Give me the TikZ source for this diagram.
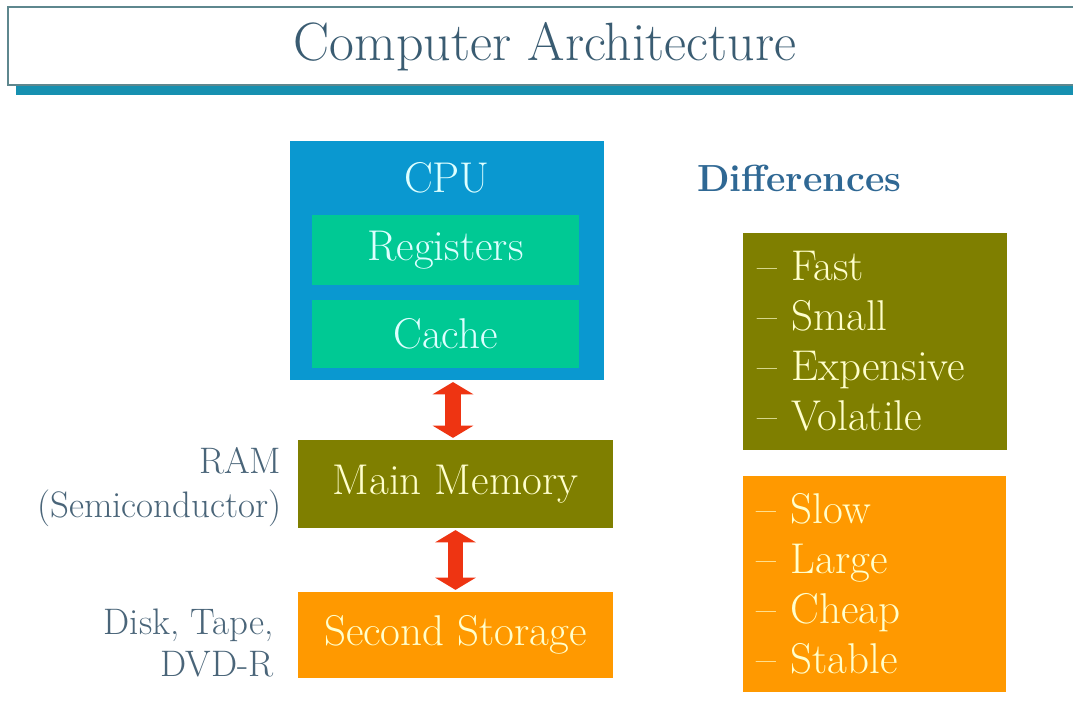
\documentclass[tikz,border=0pt]{standalone}
\usepackage{fontspec}
\usetikzlibrary{arrows.meta,positioning}

\definecolor{cpublue}{HTML}{0A98D0}
\definecolor{regreen}{HTML}{00C994}
\definecolor{memolive}{HTML}{7F7F00}
\definecolor{storeorange}{HTML}{FF9900}
\definecolor{linkred}{HTML}{EE3412}
\definecolor{titlegray}{HTML}{3A5C72}
\definecolor{framegray}{HTML}{5E878E}
\definecolor{barteal}{HTML}{1690B0}
\definecolor{labelgray}{HTML}{4A6579}
\definecolor{diffblue}{HTML}{2F6894}
\definecolor{paleyellow}{HTML}{FFFFCC}
\definecolor{palecyan}{HTML}{DDFFFF}

\begin{document}
\begin{tikzpicture}[x=0.02cm,y=-0.02cm,
                    unit box/.style={rectangle,inner sep=0pt,font=\fontsize{24.5}{28}\selectfont},
                    list box/.style={rectangle,inner xsep=0.28cm,inner ysep=0pt,align=left,
                                     text width=4.72cm,text=paleyellow,
                                     font=\fontsize{24.5}{28.4}\selectfont},
                    side label/.style={align=right,text=labelgray,inner sep=0pt},
                    mem link/.style={line width=9pt,draw=linkred,shorten >=1pt,shorten <=1pt,
                                     {Triangle[width=23pt,length=7pt]}-{Triangle[width=23pt,length=7pt]}}]
  \useasboundingbox (0,0) rectangle (1073,702);
  \fill[white] (0,0) rectangle (1073,702);

  % title
  \draw[framegray,line width=1.2pt] (1090,7) -- (8,7) -- (8,85) -- (1090,85);
  \fill[barteal] (16,86) rectangle (1073,95);
  \node[text=titlegray,font=\fontsize{30.7}{36}\selectfont] (title) at (545,47) {Computer Architecture};

  % hierarchy
  \node[unit box,fill=cpublue,minimum width=6.28cm,minimum height=4.78cm] (cpu) at (447,260.5) {};
  \node[unit box,text=palecyan] (cpulabel) at (447,178) {CPU};
  \node[unit box,fill=regreen,text=palecyan,minimum width=5.34cm,minimum height=1.4cm] (reg) at (445.5,250) {Registers};
  \node[unit box,fill=regreen,text=palecyan,minimum width=5.34cm,minimum height=1.36cm] (cache) at (445.5,334) {Cache};
  \node[unit box,fill=memolive,text=paleyellow,minimum width=6.3cm,minimum height=1.76cm] (mm) at (455.5,484) {Main Memory};
  \node[unit box,fill=storeorange,text=paleyellow,minimum width=6.3cm,minimum height=1.72cm] (ss) at (455.5,635) {Second Storage};

  \draw[mem link] (mm.north -| 453,0) -- (cpu.south -| 453,0);
  \draw[mem link] (mm.south) -- (ss.north);

  \node[side label,font=\fontsize{21}{25.5}\selectfont,left=0.32cm of mm,yshift=-0.06cm] (ram) {RAM\\(Semiconductor)};
  \node[side label,font=\fontsize{21}{24.4}\selectfont,left=0.48cm of ss,yshift=-0.16cm] (disk) {Disk, Tape,\\DVD-R};

  % differences
  \node[text=diffblue,font=\fontsize{21.5}{28}\selectfont\bfseries,anchor=west] (diff) at (691,178) {Differences};
  \node[list box,fill=memolive,minimum height=4.34cm] (fastlist) at (875,341.5)
    {\textendash\ Fast\\\textendash\ Small\\\textendash\ Expensive\\\textendash\ Volatile};
  \node[list box,fill=storeorange,minimum height=4.32cm] (slowlist) at (874.5,584)
    {\textendash\ Slow\\\textendash\ Large\\\textendash\ Cheap\\\textendash\ Stable};
\end{tikzpicture}
\end{document}
